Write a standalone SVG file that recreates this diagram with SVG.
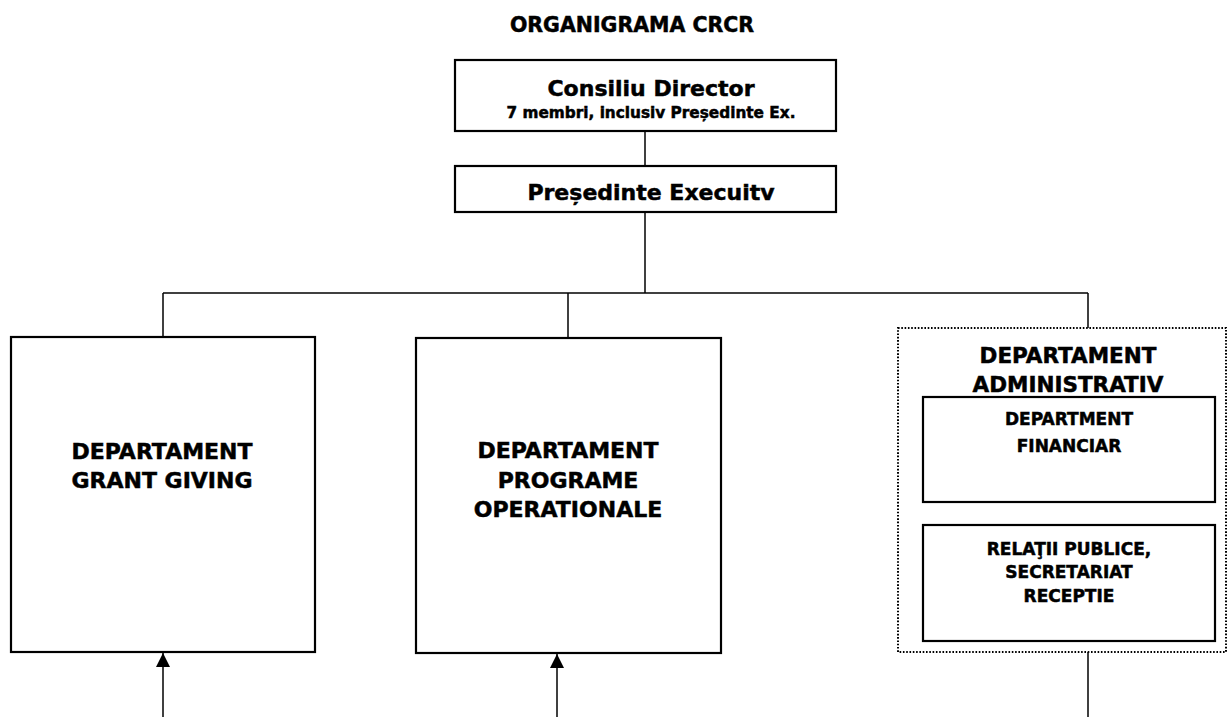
<svg xmlns="http://www.w3.org/2000/svg" width="1228" height="717" viewBox="0 0 1228 717">
<defs>
<style>
text{font-family:"DejaVu Sans",Verdana,sans-serif;font-weight:bold;fill:#000;stroke:#000;stroke-width:0.5;text-anchor:middle}
.box{fill:#fff;stroke:#000;stroke-width:2.2}
.dot{fill:none;stroke:#000;stroke-width:2;stroke-dasharray:1.6 1.7}
.ln{fill:none;stroke:#000;stroke-width:1.5}
.t22{font-size:22px}
.t17{font-size:17px}
</style>
<marker id="ah" viewBox="0 0 10 10" refX="10" refY="5" markerWidth="14" markerHeight="14" markerUnits="userSpaceOnUse" orient="auto">
<path d="M0,0 L10,5 L0,10 Z" fill="#000"/>
</marker>
</defs>
<rect width="1228" height="717" fill="#fff"/>
<text x="632" y="32" style="font-size:20.5px">ORGANIGRAMA CRCR</text>
<g id="connectors">
<line class="ln" x1="645" y1="131" x2="645" y2="166"/>
<line class="ln" x1="645" y1="212" x2="645" y2="293"/>
<line class="ln" x1="163" y1="293" x2="1088" y2="293"/>
<line class="ln" x1="163" y1="293" x2="163" y2="337"/>
<line class="ln" x1="568" y1="293" x2="568" y2="338"/>
<line class="ln" x1="1088" y1="293" x2="1088" y2="328"/>
<line class="ln" x1="163" y1="717" x2="163" y2="653" marker-end="url(#ah)"/>
<line class="ln" x1="557" y1="717" x2="557" y2="654" marker-end="url(#ah)"/>
<line class="ln" x1="1088" y1="652" x2="1088" y2="717"/>
</g>
<g id="consiliu">
<rect class="box" x="455" y="60" width="381" height="71"/>
<text class="t22" x="651" y="96">Consiliu Director</text>
<text x="651" y="118" style="font-size:15.3px">7 membri, inclusiv Președinte Ex.</text>
</g>
<g id="presedinte">
<rect class="box" x="455" y="166" width="381" height="46"/>
<text class="t22" x="651" y="200">Președinte Execuitv</text>
</g>
<g id="grant">
<rect class="box" x="11" y="337" width="304" height="315"/>
<text class="t22" x="162" y="459">DEPARTAMENT</text>
<text class="t22" x="162" y="488">GRANT GIVING</text>
</g>
<g id="programe">
<rect class="box" x="416" y="338" width="305" height="315"/>
<text class="t22" x="568" y="458">DEPARTAMENT</text>
<text class="t22" x="568" y="488">PROGRAME</text>
<text class="t22" x="568" y="517">OPERATIONALE</text>
</g>
<g id="administrativ">
<rect class="dot" x="898" y="328" width="328" height="324"/>
<text x="1068" y="363" style="font-size:21.5px">DEPARTAMENT</text>
<text x="1068" y="392" style="font-size:21.5px">ADMINISTRATIV</text>
</g>
<g id="financiar">
<rect class="box" x="923" y="397" width="292" height="105"/>
<text class="t17" x="1069" y="425">DEPARTMENT</text>
<text class="t17" x="1069" y="452">FINANCIAR</text>
</g>
<g id="relatii">
<rect class="box" x="923" y="525" width="292" height="116"/>
<text class="t17" x="1069" y="555">RELAŢII PUBLICE,</text>
<text class="t17" x="1069" y="578">SECRETARIAT</text>
<text class="t17" x="1069" y="602">RECEPTIE</text>
</g>
</svg>
